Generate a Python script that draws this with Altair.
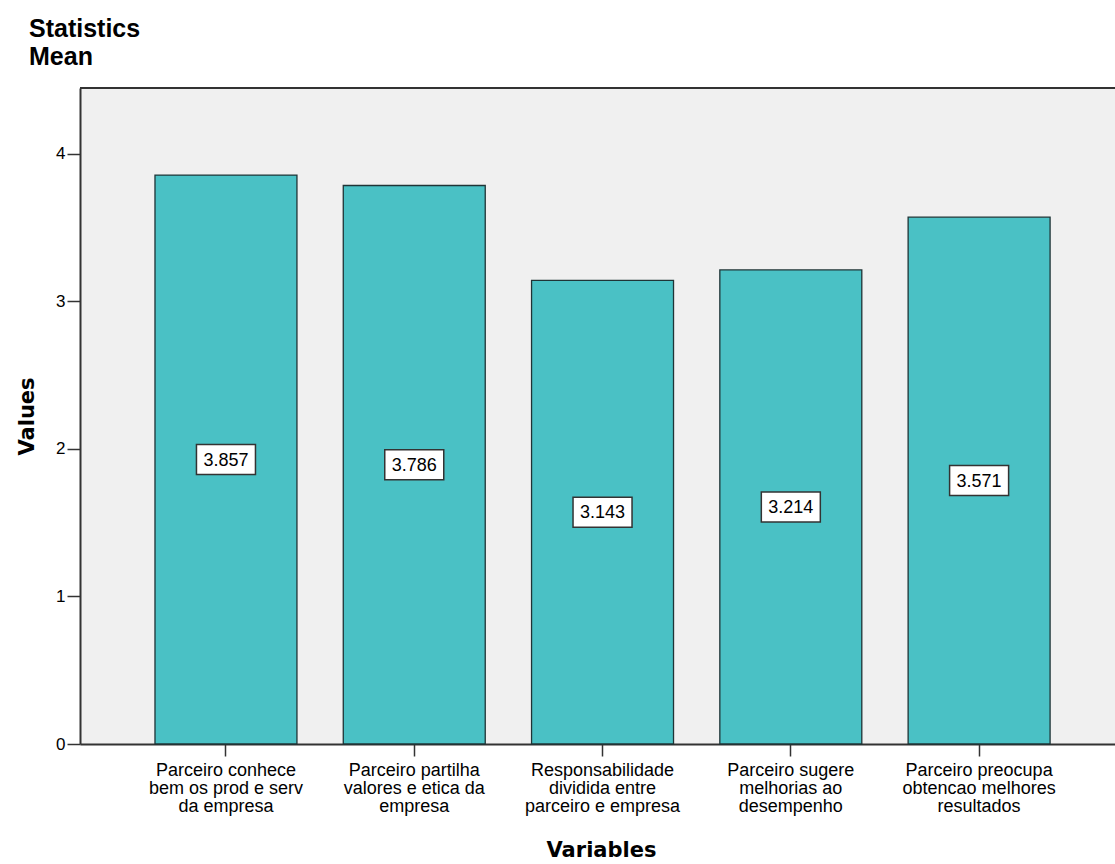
import altair as alt
import pandas as pd

categories = [
    "Parceiro conhece\nbem os prod e serv\nda empresa",
    "Parceiro partilha\nvalores e etica da\nempresa",
    "Responsabilidade\ndividida entre\nparceiro e empresa",
    "Parceiro sugere\nmelhorias ao\ndesempenho",
    "Parceiro preocupa\nobtencao melhores\nresultados",
]
means = [3.857, 3.786, 3.143, 3.214, 3.571]
labels = ["3.857", "3.786", "3.143", "3.214", "3.571"]
y_ticks = [0, 1, 2, 3, 4]

df = pd.DataFrame({"var": categories, "mean": means, "label": labels})
df["half"] = df["mean"] / 2

W, H = 1035, 656
FONT = "Liberation Sans"
DARK = "#333333"

x_enc = alt.X(
    "var:N",
    sort=categories,
    scale=alt.Scale(paddingInner=0.246, paddingOuter=0.3715, align=0.536),
    axis=alt.Axis(
        title="Variables",
        titleFont="DejaVu Sans",
        titleFontSize=21,
        titleFontWeight="bold",
        titleColor="black",
        titleX=521,
        titleY=112,
        titleBaseline="alphabetic",
        titleAnchor="start",
        titleAlign="center",
        labelExpr="split(datum.label, '\\n')",
        labelFont=FONT,
        labelFontSize=18,
        labelLineHeight=18,
        labelColor="black",
        labelAngle=0,
        labelPadding=5,
        labelBaseline="top",
        domainColor=DARK,
        domainWidth=2,
        tickColor=DARK,
        tickSize=12,
        tickWidth=1.5,
        grid=False,
    ),
)

y_scale = alt.Scale(domain=[0, 4.447], nice=False, zero=True)

bars = alt.Chart(df).mark_bar(
    color="#4AC1C5", stroke="#1f3436", strokeWidth=1.3
).encode(
    x=x_enc,
    y=alt.Y(
        "mean:Q",
        scale=y_scale,
        axis=alt.Axis(
            title="Values",
            titleFont="DejaVu Sans",
            titleFontSize=21,
            titleFontWeight="bold",
            titleColor="black",
            titleAngle=270,
            titleX=-53,
            titleY=328,
            titleAlign="center",
            titleBaseline="middle",
            values=y_ticks,
            format="d",
            labelFont=FONT,
            labelFontSize=17,
            labelColor="black",
            labelPadding=2,
            domainColor=DARK,
            domainWidth=2,
            tickColor=DARK,
            tickSize=13,
            tickWidth=1.5,
            grid=False,
        ),
    ),
)

boxes = alt.Chart(df).mark_point(
    shape="M-1,-0.5085L1,-0.5085L1,0.5085L-1,0.5085Z",
    size=3481,
    filled=True,
    fill="white",
    stroke=DARK,
    strokeWidth=1.5,
    opacity=1,
).encode(
    x=alt.X("var:N", sort=categories),
    y=alt.Y("half:Q", scale=y_scale),
)

texts = alt.Chart(df).mark_text(
    font=FONT, fontSize=18, color="black", baseline="middle", align="center", dy=1
).encode(
    x=alt.X("var:N", sort=categories),
    y=alt.Y("half:Q", scale=y_scale),
    text="label:N",
)

top_line = alt.Chart(df).mark_rule(color=DARK, strokeWidth=1.5).encode(
    x=alt.value(0), x2=alt.value(W), y=alt.value(0)
)

chart = (
    alt.layer(bars, boxes, texts, top_line)
    .properties(
        width=W,
        height=H,
        autosize=alt.AutoSizeParams(type="none"),
        padding={"left": 80, "top": 88, "right": 0, "bottom": 120},
        background="white",
        title=alt.TitleParams(
            text=["Statistics", "Mean"],
            anchor="start",
            frame="group",
            font=FONT,
            fontSize=25,
            fontWeight="bold",
            color="black",
            lineHeight=28,
            dx=-51,
            offset=17,
        ),
    )
    .configure_view(fill="#F0F0F0", strokeWidth=0)
)

chart.save("out.html", embed_options={"renderer": "svg", "actions": False})
